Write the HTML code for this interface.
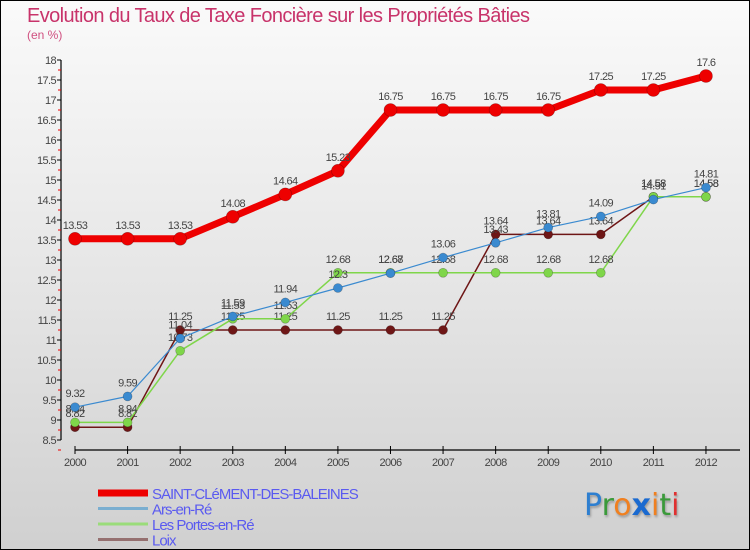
<!DOCTYPE html>
<html><head><meta charset="utf-8"><style>
html,body{margin:0;padding:0}
body{width:750px;height:550px;overflow:hidden;font-family:"Liberation Sans",sans-serif}
#wrap{position:relative;width:748px;height:548px;border:1px solid #000;background:linear-gradient(#fafafa 0%,#e4e4e4 55%,#d0d0d0 100%)}
.t{position:absolute;color:#c8336a}
</style></head><body>
<div id="wrap">
<div class="t" style="left:26px;top:4px;font-size:20px;letter-spacing:-0.6px">Evolution du Taux de Taxe Foncière sur les Propriétés Bâties</div>
<div class="t" style="left:26px;top:27px;font-size:12px;color:#d05080">(en %)</div>
<svg id="c" width="750" height="550" style="position:absolute;left:-1px;top:-1px"></svg>
<div style="position:absolute;left:583px;top:487px;font-size:30px;font-family:'DejaVu Sans',sans-serif;letter-spacing:0px;text-shadow:1px 2px 2px #999"><span style="color:#2e7fd0">P</span><span style="color:#3a9a3a">r</span><span style="color:#f08020">o</span><span style="color:#1a6ad0;font-weight:bold">x</span><span style="color:#f08020">i</span><span style="color:#3a9a3a">t</span><span style="color:#e03030">i</span></div>
</div>
<script>
const years=["2000","2001","2002","2003","2004","2005","2006","2007","2008","2009","2010","2011","2012"];
const seriesNames=["SAINT-CLéMENT-DES-BALEINES","Ars-en-Ré","Les Portes-en-Ré","Loix"];
const stClement=[13.53,13.53,13.53,14.08,14.64,15.23,16.75,16.75,16.75,16.75,17.25,17.25,17.6];
const ars=[9.32,9.59,11.04,11.59,11.94,12.3,12.67,13.06,13.43,13.81,14.09,14.51,14.81];
const portes=[8.94,8.94,10.73,11.53,11.53,12.68,12.68,12.68,12.68,12.68,12.68,14.58,14.58];
const loix=[8.82,8.82,11.25,11.25,11.25,11.25,11.25,11.25,13.64,13.64,13.64,14.58,14.58];
const yTicks=["8.5","9","9.5","10","10.5","11","11.5","12","12.5","13","13.5","14","14.5","15","15.5","16","16.5","17","17.5","18"];

const svg=document.getElementById('c');const NS="http://www.w3.org/2000/svg";
const X=i=>75+i*52.58;const Y=v=>60+(18-v)*40;
function mk(t,a,p){const e=document.createElementNS(NS,t);for(const k in a)e.setAttribute(k,a[k]);(p||svg).appendChild(e);return e;}
// axes
let ya=mk('line',{x1:61,y1:60,x2:61,y2:440,stroke:'#000','stroke-width':1.2});


yTicks.forEach(t=>{const v=parseFloat(t),y=Y(v);
 mk('line',{x1:57,y1:y,x2:61,y2:y,stroke:'#000'});
 mk('line',{x1:58,y1:y+10,x2:61,y2:y+10,stroke:'#e00'});
 const tx=mk('text',{x:56,y:y+4,'text-anchor':'end','font-size':11,fill:'#444','letter-spacing':'-0.6'});tx.textContent=t;
 
 
});
let xa=mk('line',{x1:75,y1:450,x2:740,y2:450,stroke:'#000','stroke-width':1.2});


years.forEach((yr,i)=>{mk('line',{x1:X(i),y1:446,x2:X(i),y2:454,stroke:'#000'});
 const tx=mk('text',{x:X(i),y:466,'text-anchor':'middle','font-size':11,fill:'#444','letter-spacing':'-0.6'});tx.textContent=yr;
 
 
});
function series(data,color,w,r,name){
 const g=mk('g',{});
 
 
 mk('polyline',{points:data.map((v,i)=>X(i)+','+Y(v)).join(' '),fill:'none',stroke:color,'stroke-width':w,'stroke-linejoin':'round'},g);
 data.forEach((v,i)=>{const c=mk('circle',{cx:X(i),cy:Y(v),r:r,fill:color,stroke:'rgba(0,0,0,0.3)','stroke-width':0.6},g);
  
  
  const tx=mk('text',{x:X(i),y:Y(v)-10,'text-anchor':'middle','font-size':11,fill:'#444','letter-spacing':'-0.6'},g);tx.textContent=String(v);
  
  
 });
}
series(loix,'#6e1616',1.5,4.5,'series-loix');
series(portes,'#7fd64a',1.5,4.5,'series-les-portes-en-re');
series(ars,'#3a8ad0',1.2,4.5,'series-ars-en-re');
series(stClement,'#ee0000',7,6.5,'series-saint-clement');
// legend
const leg=[['#ee0000',7],['#7aaed0',3],['#9adc7a',3],['#957070',3]];
leg.forEach((l,i)=>{const y=493+i*15.5;
 const g=mk('g',{});
 
 
 mk('line',{x1:98,y1:y,x2:148,y2:y,stroke:l[0],'stroke-width':l[1]},g);
 const tx=mk('text',{x:152,y:y+6,'font-size':15,fill:'#5a5af0','letter-spacing':'-1'},g);tx.textContent=seriesNames[i];
});
</script>
</body></html>
